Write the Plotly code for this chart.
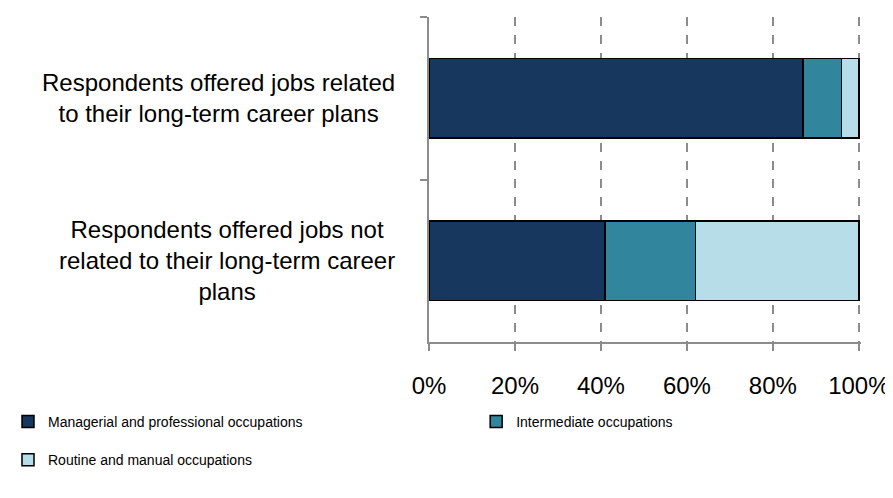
import plotly.graph_objects as go

categories = ["Respondents offered jobs related<br>to their long-term career plans",
              "Respondents offered jobs not<br>related to their long-term career<br>plans"]
cat_keys = ["related", "not related"]

managerial = [87, 41]
intermediate = [9, 21]
routine = [4, 38]

series = [
    ("Managerial and professional occupations", managerial, "#17375e", "legend"),
    ("Intermediate occupations", intermediate, "#31859c", "legend2"),
    ("Routine and manual occupations", routine, "#b7dee8", "legend"),
]

fig = go.Figure()
for name, vals, col, leg in series:
    fig.add_trace(go.Bar(
        y=cat_keys, x=vals, name=name, orientation="h", legend=leg, legendgroup=name,
        marker=dict(color=col, line=dict(color="black", width=1.5)),
    ))

# y labels as annotations so the lines are centred like the original
for key, label in zip(cat_keys, categories):
    fig.add_annotation(text=label, xref="paper", yref="y", x=-0.074, y=key,
                       xanchor="right", yanchor="middle", align="center",
                       showarrow=False,
                       font=dict(family="Liberation Sans, Arial", size=24, color="black"))

legfont = dict(family="Liberation Sans, Arial", size=14, color="black")
# page body adds an 8px margin on the top/left, so shrink the figure to fit
fig.update_layout(
    barmode="stack",
    bargap=0.51,
    width=885, height=490,
    margin=dict(l=421, r=32, t=9, b=156, autoexpand=False),
    plot_bgcolor="white", paper_bgcolor="white",
    font=dict(family="Liberation Sans, Arial", color="black"),
    legend=dict(xref="container", yref="container", x=0.0, y=0.188,
                xanchor="left", yanchor="top", font=legfont,
                tracegroupgap=17, traceorder="grouped"),
    legend2=dict(xref="container", yref="container", x=0.529, y=0.188,
                 xanchor="left", yanchor="top", font=legfont),
)
# range a touch past 100 so the 100% gridline and tick are not clipped
fig.update_xaxes(range=[0, 100.5], tickvals=[0, 20, 40, 60, 80, 100],
                 ticktext=["0%", "20%", "40%", "60%", "80%", "100%"],
                 showgrid=True, gridcolor="#8c8c8c", griddash="dash", gridwidth=1.5,
                 zeroline=False, showline=True, linecolor="#8c8c8c", linewidth=1.5,
                 ticks="outside", ticklen=7, tickcolor="#8c8c8c", tickwidth=1.5,
                 ticklabelstandoff=14, tickfont=dict(size=24), automargin=False,
                 ticklabeloverflow="allow")
fig.update_yaxes(autorange="reversed", showticklabels=False, showgrid=False,
                 showline=True, linecolor="#8c8c8c", linewidth=1.5,
                 ticks="outside", tickson="boundaries", ticklen=7,
                 tickcolor="#8c8c8c", tickwidth=1.5, automargin=False)

fig.write_html("out.html")
